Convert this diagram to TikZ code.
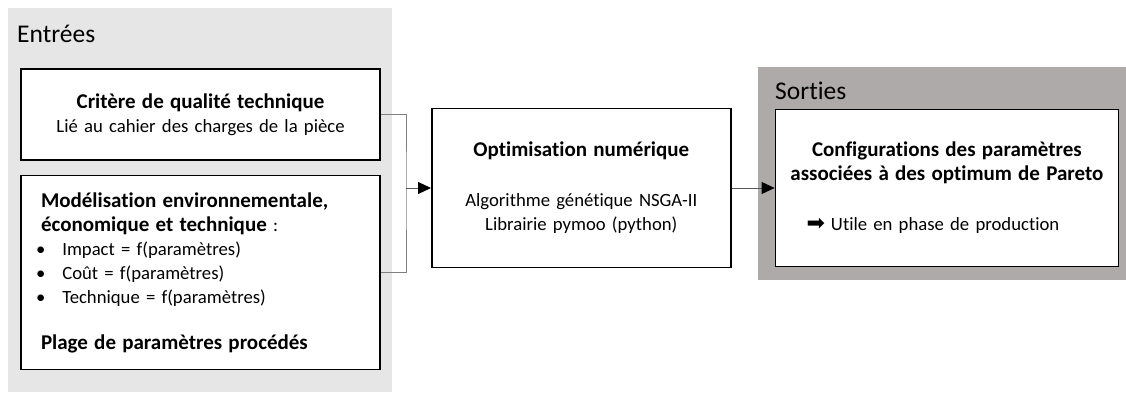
\documentclass[tikz,border=0pt]{standalone}
\usepackage{fontspec}
\setmainfont{Carlito}[Ligatures=CommonOff]
\newfontfamily\dingfont{DejaVu Sans}
\usetikzlibrary{arrows.meta,positioning}
\definecolor{entreesgray}{HTML}{E7E6E6}
\definecolor{sortiesgray}{HTML}{AEAAAA}
\definecolor{linkgray}{HTML}{808080}
\definecolor{arrowgray}{HTML}{595959}
\newcommand{\titlefont}{\fontsize{21}{24}\selectfont\bfseries}
\newcommand{\bodyfont}{\fontsize{18.7}{24}\selectfont}
\newcommand{\panelfont}{\fontsize{25.5}{28}\selectfont}

\begin{document}
\begin{tikzpicture}[x=1pt, y=-1pt,
    box/.style={draw, line width=1.6pt, fill=white, align=center, inner sep=0pt, font=\bodyfont},
    panel/.style={anchor=base west, inner sep=0pt, font=\panelfont},
    link/.style={draw=linkgray, line width=1pt},
    arr/.style={-{Triangle[length=13pt, width=12pt, color=black]}, draw=arrowgray, line width=1pt}]
  \useasboundingbox (0,0) rectangle (1126,392);
  % gray panels
  \fill[entreesgray] (8,8) rectangle (392,392);
  \fill[sortiesgray] (758,67) rectangle (1126,280);
  \node[panel] (entrees) at (17,42) {Entrées};
  \node[panel] (sorties) at (775,99) {Sorties};
  % inputs
  \node[box, minimum width=359pt, minimum height=91pt, text width=340pt] (crit) at (200.5,114.5)
    {{\titlefont Critère de qualité technique}\\
     Lié au cahier des charges de la pièce};
  \node[box, below=14pt of crit, minimum width=359pt, minimum height=194pt, text width=319pt, align=left] (model)
    {{\titlefont Modélisation environnementale,\\
      économique et technique} :\\
     \hspace*{-5pt}\textbullet\hspace{17pt}Impact = f(paramètres)\\
     \hspace*{-5pt}\textbullet\hspace{17pt}Coût = f(paramètres)\\
     \hspace*{-5pt}\textbullet\hspace{17pt}Technique = f(paramètres)\\[22pt]
     {\titlefont Plage de paramètres procédés}};
  \coordinate (merge) at (406,188);
  % optimisation and outputs
  \node[box, right=25pt of merge, minimum width=299pt, minimum height=159pt, text width=280pt] (optim)
    {{\titlefont Optimisation numérique}\\[26pt]
     Algorithme génétique NSGA-II\\
     Librairie pymoo (python)};
  \node[box, right=43pt of optim, minimum width=343pt, minimum height=157pt, text width=340pt] (result)
    {{\titlefont Configurations des paramètres\\
      associées à des optimum de Pareto}\\[26pt]
     {\dingfont\fontsize{22}{24}\selectfont ➡}\hspace{6pt}Utile en phase de production\hspace*{28pt}\mbox{}};
  \draw[link] (crit.east) -| (merge) |- (model.east);
  \draw[arr] (merge) -- (optim.west);
  \draw[arr] (optim.east) -- (result.west);
\end{tikzpicture}
\end{document}
